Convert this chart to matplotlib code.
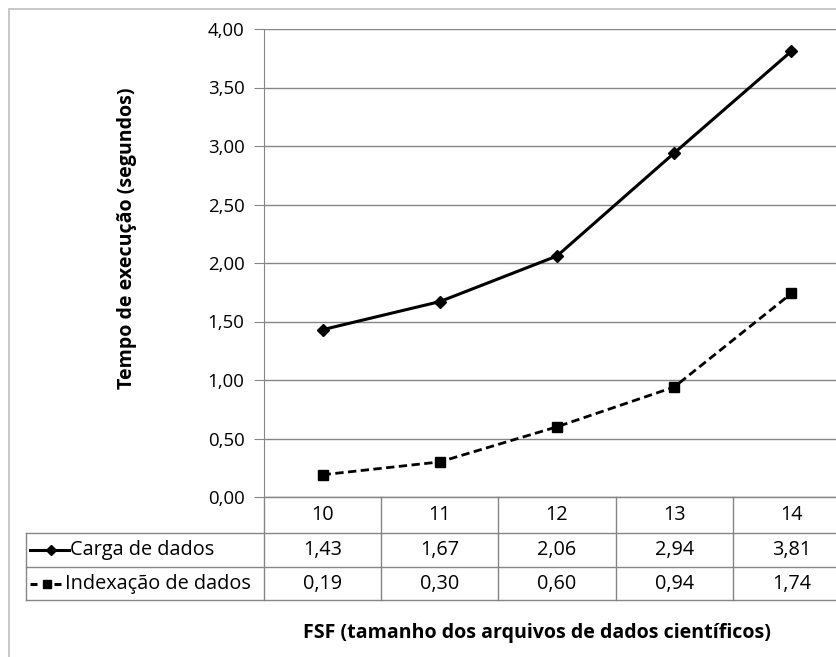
import matplotlib
matplotlib.use("Agg")
import matplotlib.pyplot as plt
from matplotlib.lines import Line2D
from matplotlib.patches import Rectangle
import matplotlib.transforms as mtransforms

categories = [10, 11, 12, 13, 14]
carga = [1.43, 1.67, 2.06, 2.94, 3.81]
indexacao = [0.19, 0.30, 0.60, 0.94, 1.74]
series_names = ["Carga de dados", "Indexação de dados"]
yticks = [0.0, 0.5, 1.0, 1.5, 2.0, 2.5, 3.0, 3.5, 4.0]

plt.rcParams['font.family'] = ['Open Sans', 'DejaVu Sans']
FS_TICK = 13.4
FS_TAB = 14.3
FS_LAB = 14.1

W, H = 837, 657
fig = plt.figure(figsize=(W / 100, H / 100), dpi=100)

def fx(px):
    return px / W

def fy(py):
    return 1 - py / H

grid_c = '#868686'
fig.patches.append(Rectangle((fx(9), fy(700)), fx(900), fy(9) - fy(700), transform=fig.transFigure,
                             fill=False, edgecolor='#bfbfbf', linewidth=1.2))

left, right, top, bottom = 264, 850, 29, 497
ax = fig.add_axes([fx(left), fy(bottom), fx(right) - fx(left), fy(top) - fy(bottom)])
ax.set_xlim(9.5, 14.5)
ax.set_ylim(0, 4)
ax.set_yticks(yticks)
ax.set_yticklabels([f"{v:.2f}".replace('.', ',') for v in yticks], fontsize=FS_TICK)
ax.set_xticks([])
for s in ['top', 'right', 'bottom']:
    ax.spines[s].set_visible(False)
ax.spines['left'].set_color(grid_c)
ax.tick_params(axis='y', length=7, color=grid_c, pad=7)
ax.yaxis.grid(True, color=grid_c, linewidth=1)
ax.set_axisbelow(True)

ax.plot(categories, carga, color='black', linewidth=2.2, marker='D', markersize=6.5, zorder=3)
ax.plot(categories, indexacao, color='black', linewidth=2.0, linestyle=(0, (3, 1.6)),
        marker='s', markersize=7, zorder=3)

fig.text(fx(127), fy(238), "Tempo de execução (segundos)", rotation=90,
         ha='center', va='center', fontsize=FS_LAB, fontweight='bold')

# table
tr = mtransforms.blended_transform_factory(ax.transData, fig.transFigure)
rows_y = [497, 533, 567, 600]
tab_left = 26
col_w = (14.5 - 9.5) / 5
fig.add_artist(Line2D([fx(left), 1.05], [fy(rows_y[0])] * 2, transform=fig.transFigure, color=grid_c, lw=1))
for ry in rows_y[1:]:
    fig.add_artist(Line2D([fx(tab_left), 1.05], [fy(ry)] * 2, transform=fig.transFigure, color=grid_c, lw=1))
fig.add_artist(Line2D([fx(left)] * 2, [fy(rows_y[0]), fy(rows_y[3])], transform=fig.transFigure, color=grid_c, lw=1))
fig.add_artist(Line2D([fx(tab_left)] * 2, [fy(rows_y[1]), fy(rows_y[3])], transform=fig.transFigure, color=grid_c, lw=1))
for i in range(1, 6):
    xb = categories[0] - 0.5 + i * col_w
    fig.add_artist(Line2D([xb, xb], [fy(rows_y[0]), fy(rows_y[3])], transform=tr, color=grid_c, lw=1, clip_on=False))

def mid(i):
    return (fy(rows_y[i]) + fy(rows_y[i + 1])) / 2

for c in categories:
    fig.text(c, mid(0), str(c), transform=tr, ha='center', va='center', fontsize=FS_TAB)
for r, vals in enumerate([carga, indexacao]):
    for c, v in zip(categories, vals):
        fig.text(c, mid(r + 1), f"{v:.2f}".replace('.', ','), transform=tr, ha='center', va='center',
                 fontsize=FS_TAB)

# legend keys
fig.add_artist(Line2D([fx(30), fx(69)], [mid(1)] * 2, transform=fig.transFigure, color='black', lw=2.2))
fig.add_artist(Line2D([fx(51)], [mid(1)], transform=fig.transFigure, color='black', marker='D', markersize=5))
fig.text(fx(70), mid(1), series_names[0], ha='left', va='center', fontsize=FS_TAB)
fig.add_artist(Line2D([fx(30), fx(37)], [mid(2)] * 2, transform=fig.transFigure, color='black', lw=2.2,
                      solid_capstyle='butt'))
fig.add_artist(Line2D([fx(54), fx(61)], [mid(2)] * 2, transform=fig.transFigure, color='black', lw=2.2,
                      solid_capstyle='butt'))
fig.add_artist(Line2D([fx(47)], [mid(2)], transform=fig.transFigure, color='black', marker='s', markersize=6))
fig.text(fx(65), mid(2), series_names[1], ha='left', va='center', fontsize=FS_TAB)

fig.text(fx(537), fy(633), "FSF (tamanho dos arquivos de dados científicos)", ha='center', va='center',
         fontsize=FS_LAB, fontweight='bold')

fig.savefig("out.png", dpi=100)
